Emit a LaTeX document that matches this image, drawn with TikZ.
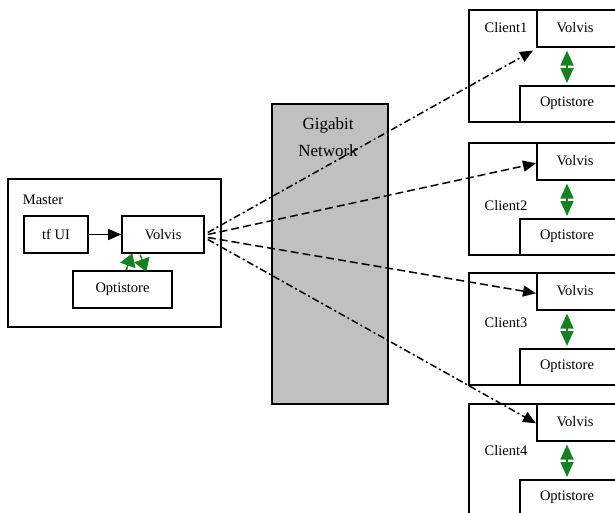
\documentclass[tikz,border=0pt]{standalone}
\usepackage{fontspec}
\setmainfont{Liberation Serif}
\usetikzlibrary{arrows.meta,calc}
\definecolor{netgray}{RGB}{192,192,192}
\definecolor{linkgreen}{RGB}{22,128,34}
\begin{document}
\begin{tikzpicture}[x=1pt,y=-1pt,
  box/.style={draw, line width=1.6pt, fill=white, inner sep=0pt, anchor=north west,
              font=\fontsize{14.5}{16}\selectfont},
  lbl/.style={inner sep=0pt, font=\fontsize{14.5}{16}\selectfont},
  link/.style={line width=1.5pt, -{Triangle[length=13pt,width=11pt]}},
  sync/.style={draw=linkgreen, line width=1.8pt, linkgreen,
               {Triangle[length=15pt,width=13pt]}-{Triangle[length=15pt,width=13pt]}},
  msync/.style={draw=linkgreen, line width=1.5pt, linkgreen,
               -{Triangle[length=13pt,width=16pt]}},
]
\clip (0,0) rectangle (615,513);
\fill[white] (0,0) rectangle (615,513);

% Master node
\node[box, minimum width=213pt, minimum height=148pt] (master) at (7,178) {};
\node[lbl] (mastertxt) at (43,200) {Master};
\node[box, minimum width=64pt, minimum height=37pt, anchor=center] (tfui) at (56,234.5) {tf UI};
\node[box, minimum width=82pt, minimum height=37pt, anchor=center] (mvol) at (163,234.5) {Volvis};
\node[box, minimum width=99pt, minimum height=37pt, anchor=center] (mopt) at (122.5,289.5) {Optistore};
\draw[link] (tfui) -- (mvol);
\draw[msync] ($(mopt.north west)+(54,0)$) -- ++(6,-17);
\draw[msync] ($(mvol.south west)+(19,1)$) -- ++(6,17);

% Network
\node[draw, line width=1.6pt, fill=netgray, anchor=north west, minimum width=116pt,
      minimum height=300pt, inner sep=0pt] (net) at (271,103) {};
\node[inner sep=0pt, font=\fontsize{17}{27}\selectfont, align=center] (nettxt) at (328,137) {Gigabit\\Network};

% Clients
\foreach \i/\T/\ly in {1/9/28, 2/142/206, 3/272/323, 4/403/451}{
  \node[box, minimum width=170pt, minimum height=112pt] (client\i) at (468,\T) {};
  \node[box, minimum width=100pt, minimum height=37pt] (cvol\i) at (536,\T) {};
  \node[box, minimum width=110pt, minimum height=36pt] (copt\i) at (519,\T+76) {};
  \node[lbl] (cvoltxt\i) at (575,\T+18.5) {Volvis};
  \node[lbl] (copttxt\i) at (567,\T+94) {Optistore};
  \node[lbl] (clienttxt\i) at (506,\ly) {Client\i};
  \draw[sync] ($(cvol\i.south west)+(31,3)$) -- ($(copt\i.north west)+(48,-2)$);
}

% Links from master to clients
\draw[link, dash pattern=on 7pt off 3pt on 2pt off 3pt] ($(mvol.east)+(3,-2)$) -- ($(cvol1.south west)+(-3,3)$);
\draw[link, dash pattern=on 8pt off 4pt] ($(mvol.east)+(3,0)$) -- ($(cvol2.west)+(0,2)$);
\draw[link, dash pattern=on 8pt off 4pt] ($(mvol.east)+(3,3)$) -- ($(cvol3.west)+(0,2)$);
\draw[link, dash pattern=on 7pt off 3pt on 2pt off 3pt] ($(mvol.east)+(3,5)$) -- ($(cvol4.west)+(0,1)$);
\end{tikzpicture}
\end{document}
